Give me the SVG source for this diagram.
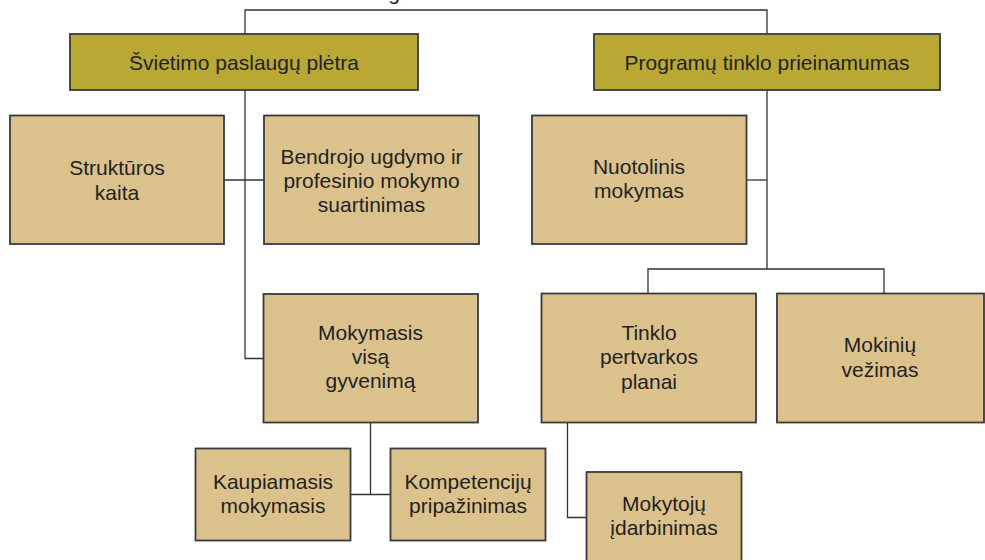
<svg xmlns="http://www.w3.org/2000/svg" width="985" height="560" viewBox="0 0 985 560">
<style>
.top{fill:#b9a834;stroke:#3a3a3a;stroke-width:1.8}
.box{fill:#dbc28d;stroke:#3a3a3a;stroke-width:1.8}
.t{font-family:"Liberation Sans",Arial,sans-serif;font-size:21px;fill:#231f20;text-anchor:middle}
.c{fill:none;stroke:#333;stroke-width:1.3}
</style>
<rect width="985" height="560" fill="#fff"/>
<text class="t" x="394" y="0">g</text>
<g id="connectors">
<path class="c" d="M245,34 V10 H767 V34"/>
<path class="c" d="M245,90 V358.5 H263.5"/>
<path class="c" d="M224,180 H264"/>
<path class="c" d="M767,90 V269"/>
<path class="c" d="M746.5,180 H767"/>
<path class="c" d="M648,293.5 V269 H884 V293.5"/>
<path class="c" d="M370.5,422.5 V494.5"/>
<path class="c" d="M350.5,494.5 H390.5"/>
<path class="c" d="M567.5,422.5 V517.5 H586.5"/>
</g>
<g id="n1"><rect class="top" x="70" y="34" width="348" height="56"/><text class="t" x="244" y="69.5">Švietimo paslaugų plėtra</text></g>
<g id="n2"><rect class="top" x="594" y="34" width="346" height="56"/><text class="t" x="767" y="69.5">Programų tinklo prieinamumas</text></g>
<g id="n3"><rect class="box" x="10" y="115.5" width="214" height="128.5"/><text class="t" x="117" y="175">Struktūros</text><text class="t" x="117" y="200">kaita</text></g>
<g id="n4"><rect class="box" x="264" y="115.5" width="215" height="128.5"/><text class="t" x="371.5" y="164">Bendrojo ugdymo ir</text><text class="t" x="371.5" y="188">profesinio mokymo</text><text class="t" x="371.5" y="212">suartinimas</text></g>
<g id="n5"><rect class="box" x="532" y="115.5" width="214.5" height="128.5"/><text class="t" x="639" y="174">Nuotolinis</text><text class="t" x="639" y="198">mokymas</text></g>
<g id="n6"><rect class="box" x="263.5" y="294" width="214.5" height="128.5"/><text class="t" x="370.5" y="339.5">Mokymasis</text><text class="t" x="370.5" y="363.5">visą</text><text class="t" x="370.5" y="387.5">gyvenimą</text></g>
<g id="n7"><rect class="box" x="541.5" y="293.5" width="214.5" height="129"/><text class="t" x="649" y="339.5">Tinklo</text><text class="t" x="649" y="364">pertvarkos</text><text class="t" x="649" y="388.5">planai</text></g>
<g id="n8"><rect class="box" x="777" y="293.5" width="207" height="129"/><text class="t" x="880" y="352">Mokinių</text><text class="t" x="880" y="376.5">vežimas</text></g>
<g id="n9"><rect class="box" x="195.5" y="448.5" width="155" height="92"/><text class="t" x="273" y="488.5">Kaupiamasis</text><text class="t" x="273" y="512.5">mokymasis</text></g>
<g id="n10"><rect class="box" x="390.5" y="448.5" width="155" height="92"/><text class="t" x="468" y="488.5">Kompetencijų</text><text class="t" x="468" y="512.5">pripažinimas</text></g>
<g id="n11"><rect class="box" x="586.5" y="472" width="155" height="100"/><text class="t" x="664" y="511">Mokytojų</text><text class="t" x="664" y="535">įdarbinimas</text></g>
</svg>
